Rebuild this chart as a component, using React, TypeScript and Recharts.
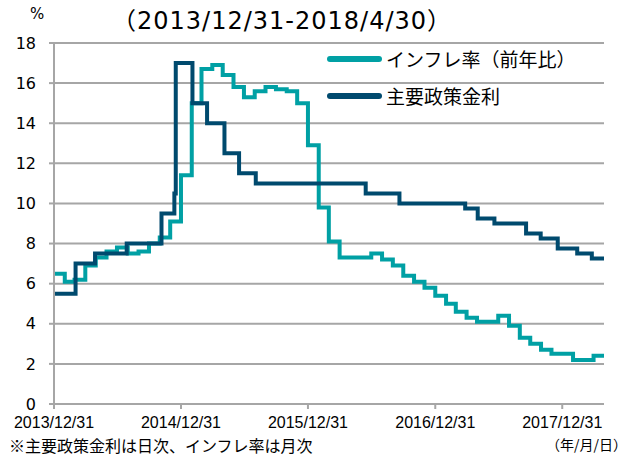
import React from 'react'
import { LineChart, Line, XAxis, YAxis, CartesianGrid, Legend } from 'recharts'

// day 0 = 2013/12/31
const START = Date.UTC(2013, 11, 31)
const DAY = 86400000
const END_DATE = '2018-04-30'

// CPI (yoy %), monthly, plotted at month end
const inflationMonths = [
  '2013-12', '2014-01', '2014-02', '2014-03', '2014-04', '2014-05', '2014-06',
  '2014-07', '2014-08', '2014-09', '2014-10', '2014-11', '2014-12',
  '2015-01', '2015-02', '2015-03', '2015-04', '2015-05', '2015-06',
  '2015-07', '2015-08', '2015-09', '2015-10', '2015-11', '2015-12',
  '2016-01', '2016-02', '2016-03', '2016-04', '2016-05', '2016-06',
  '2016-07', '2016-08', '2016-09', '2016-10', '2016-11', '2016-12',
  '2017-01', '2017-02', '2017-03', '2017-04', '2017-05', '2017-06',
  '2017-07', '2017-08', '2017-09', '2017-10', '2017-11', '2017-12',
  '2018-01', '2018-02', '2018-03', '2018-04',
]
const inflationValues = [
  6.5, 6.1, 6.2, 6.9, 7.3, 7.6, 7.8,
  7.5, 7.6, 8.0, 8.3, 9.1, 11.4,
  15.0, 16.7, 16.9, 16.4, 15.8, 15.3,
  15.6, 15.8, 15.7, 15.6, 15.0, 12.9,
  9.8, 8.1, 7.3, 7.3, 7.3, 7.5,
  7.2, 6.9, 6.4, 6.1, 5.8, 5.4,
  5.0, 4.6, 4.3, 4.1, 4.1, 4.4,
  3.9, 3.3, 3.0, 2.7, 2.5, 2.5,
  2.2, 2.2, 2.4, 2.4,
]

// key rate, daily (change dates)
const rateDates = [
  '2013-12-31', '2014-03-03', '2014-04-28', '2014-07-28', '2014-11-05',
  '2014-12-12', '2014-12-16', '2015-02-02', '2015-03-16', '2015-05-05',
  '2015-06-16', '2015-08-03', '2016-06-14', '2016-09-19', '2017-03-27',
  '2017-05-02', '2017-06-19', '2017-09-18', '2017-10-30', '2017-12-18',
  '2018-02-12', '2018-03-26',
]
const rateValues = [
  5.5, 7.0, 7.5, 8.0, 9.5,
  10.5, 17.0, 15.0, 14.0, 12.5,
  11.5, 11.0, 10.5, 10.0, 9.75,
  9.25, 9.0, 8.5, 8.25, 7.75,
  7.5, 7.25,
]

const xTickDates = ['2013-12-31', '2014-12-31', '2015-12-31', '2016-12-31', '2017-12-31']
const xTickLabels = ['2013/12/31', '2014/12/31', '2015/12/31', '2016/12/31', '2017/12/31']
const yTicks = [0, 2, 4, 6, 8, 10, 12, 14, 16, 18]

const TEAL = '#00a0a4'
const NAVY = '#004a6e'
const GRID = '#a6a6a6'
const NUM_FONT = '"DejaVu Sans", Verdana, sans-serif'
const JP_FONT = '"Noto Sans CJK JP", sans-serif'

function dayOf(iso: string) {
  const [y, m, d] = iso.split('-').map(Number)
  return Math.round((Date.UTC(y, m - 1, d) - START) / DAY)
}

function monthEnd(ym: string) {
  const [y, m] = ym.split('-').map(Number)
  return Math.round((Date.UTC(y, m, 0) - START) / DAY)
}

const endDay = dayOf(END_DATE)

const inflationData = inflationMonths.map((m, i) => ({ d: monthEnd(m), v: inflationValues[i] }))
const rateData = [
  ...rateDates.map((s, i) => ({ d: dayOf(s), v: rateValues[i] })),
  { d: endDay, v: rateValues[rateValues.length - 1] },
]

const xTicks = xTickDates.map(dayOf)
const labelOf = (d: number) => xTickLabels[xTicks.indexOf(d)] ?? ''

function LegendBox({ payload }: any) {
  return (
    <div style={{ fontFamily: JP_FONT }}>
      {(payload || []).map((p: any) => (
        <div key={p.value} style={{ display: 'flex', alignItems: 'center', height: 37 }}>
          <div style={{ width: 55, height: 6, borderRadius: 3, background: p.color, marginRight: 4 }} />
          <span style={{ fontSize: 19, color: '#000' }}>{p.value}</span>
        </div>
      ))}
    </div>
  )
}

export default function App() {
  return (
    <div style={{ position: 'absolute', left: 0, top: 0, width: 630, height: 459, background: '#fff' }}>
      <div style={{ position: 'absolute', left: 30, top: 5, fontSize: 15, fontFamily: NUM_FONT }}>%</div>
      <div
        style={{
          position: 'absolute',
          left: 112,
          top: 1,
          fontSize: 24,
          letterSpacing: 1,
          fontFamily: `"DejaVu Sans", ${JP_FONT}`,
        }}
      >
        （2013/12/31-2018/4/30）
      </div>
      <LineChart width={630} height={459} margin={{ top: 43, right: 26, bottom: 25, left: 0 }}>
        <CartesianGrid vertical={false} stroke={GRID} strokeWidth={2} />
        <XAxis
          type="number"
          dataKey="d"
          domain={[0, endDay]}
          ticks={xTicks}
          tickFormatter={labelOf}
          height={30}
          stroke={GRID}
          strokeWidth={2}
          tickSize={5}
          tickMargin={8}
          tick={{ fontSize: 16, fill: '#000', fontFamily: '"Liberation Sans Narrow", "Liberation Sans", Arial, sans-serif' }}
          allowDataOverflow
        />
        <YAxis
          type="number"
          domain={[0, 18]}
          ticks={yTicks}
          width={54}
          stroke={GRID}
          strokeWidth={2}
          tickSize={5}
          tickMargin={13}
          tick={{ fontSize: 16, fill: '#000', fontFamily: NUM_FONT }}
        />
        <Legend
          layout="vertical"
          align="center"
          verticalAlign="middle"
          wrapperStyle={{ left: 327, top: 40, width: 290 }}
          content={<LegendBox />}
        />
        <Line
          data={inflationData}
          dataKey="v"
          name="インフレ率（前年比）"
          type="stepAfter"
          stroke={TEAL}
          strokeWidth={4}
          dot={false}
          activeDot={false}
          isAnimationActive={false}
        />
        <Line
          data={rateData}
          dataKey="v"
          name="主要政策金利"
          type="stepAfter"
          stroke={NAVY}
          strokeWidth={4}
          dot={false}
          activeDot={false}
          isAnimationActive={false}
        />
      </LineChart>
      <div style={{ position: 'absolute', left: 9, top: 433, fontSize: 16, fontFamily: JP_FONT }}>
        ※主要政策金利は日次、インフレ率は月次
      </div>
      <div style={{ position: 'absolute', left: 546, top: 434, fontSize: 14, fontFamily: JP_FONT }}>
        （年/月/日）
      </div>
    </div>
  )
}
